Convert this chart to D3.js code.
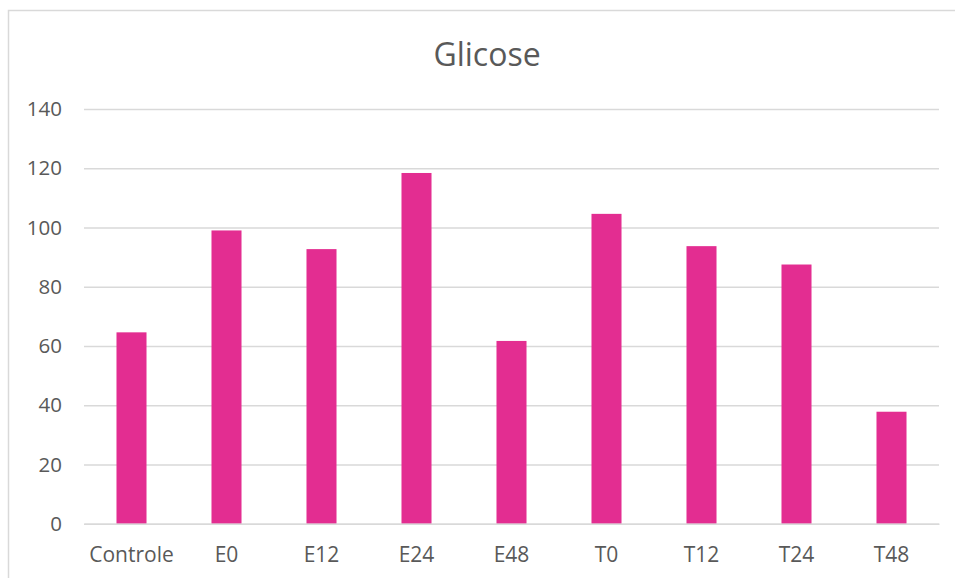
<!DOCTYPE html>
<html>
<head>
<meta charset="utf-8">
<script src="https://cdn.jsdelivr.net/npm/d3@7"></script>
<style>
  html, body { margin: 0; padding: 0; background: #ffffff; }
  svg { display: block; }
</style>
</head>
<body>
<svg id="chart" width="955" height="578"></svg>
<script>
// Glucose measurements per group
const categories = ["Controle", "E0", "E12", "E24", "E48", "T0", "T12", "T24", "T48"];
const values = [64.6, 99.0, 92.7, 118.4, 61.7, 104.6, 93.7, 87.5, 37.8];
const yTicks = [0, 20, 40, 60, 80, 100, 120, 140];
const title = "Glicose";

const width = 955, height = 578;
const margin = { left: 84, right: 16, top: 109, bottom: 54.3 };
const font = "'Open Sans', 'Liberation Sans', sans-serif";
const textColor = "#595959";
const gridColor = "#d9d9d9";
const barColor = "#e32d91";

const svg = d3.select("#chart");

// Chart area frame
svg.append("rect")
  .attr("x", 8.5).attr("y", 10.5)
  .attr("width", width + 20).attr("height", height + 20)
  .attr("fill", "none")
  .attr("stroke", gridColor)
  .attr("stroke-width", 1.5);

const x = d3.scaleBand()
  .domain(categories)
  .range([margin.left, width - margin.right])
  .padding(0);

const y = d3.scaleLinear()
  .domain([0, 140])
  .range([height - margin.bottom, margin.top]);

// Horizontal gridlines with value labels
const yAxis = d3.axisLeft(y)
  .tickValues(yTicks)
  .tickSize(-(width - margin.right - margin.left))
  .tickPadding(22);

const gy = svg.append("g")
  .attr("transform", `translate(${margin.left},0)`)
  .call(yAxis);
gy.select(".domain").remove();
gy.selectAll(".tick line")
  .attr("stroke", gridColor)
  .attr("stroke-width", 1.5);
gy.selectAll(".tick text")
  .attr("fill", textColor)
  .attr("font-family", font)
  .attr("font-size", 20.5);

// Bars
const barFrac = 0.316;
svg.append("g")
  .selectAll("rect")
  .data(categories.map((c, i) => ({ c, v: values[i] })))
  .join("rect")
  .attr("x", d => x(d.c) + x.bandwidth() * (1 - barFrac) / 2)
  .attr("width", x.bandwidth() * barFrac)
  .attr("y", d => y(d.v))
  .attr("height", d => y(0) - y(d.v))
  .attr("fill", barColor);

// Category axis
const xAxis = d3.axisBottom(x).tickSize(0).tickPadding(23);
const gx = svg.append("g")
  .attr("transform", `translate(0,${y(0)})`)
  .call(xAxis);
gx.select(".domain")
  .attr("stroke", gridColor)
  .attr("stroke-width", 1.5);
gx.selectAll(".tick text")
  .attr("fill", textColor)
  .attr("font-family", font)
  .attr("font-size", 21);

// Title
svg.append("text")
  .attr("x", 487)
  .attr("y", 66)
  .attr("text-anchor", "middle")
  .attr("fill", textColor)
  .attr("font-family", font)
  .attr("font-size", 32)
  .text(title);
</script>
</body>
</html>
